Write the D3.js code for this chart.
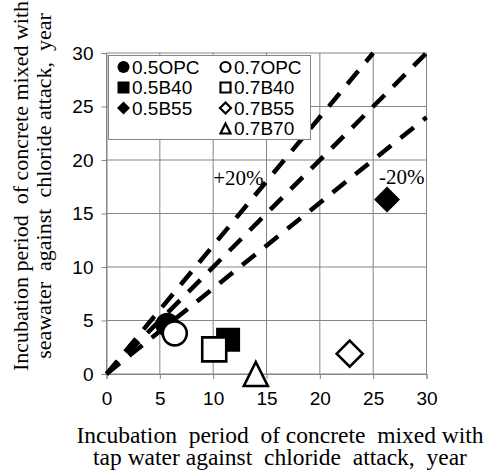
<!DOCTYPE html>
<html>
<head>
<meta charset="utf-8">
<script src="https://cdn.jsdelivr.net/npm/d3@7"></script>
<style>
  html, body { margin: 0; padding: 0; background: #fff; }
  svg { display: block; }
  text { white-space: pre; }
</style>
</head>
<body>
<svg id="chart" width="495" height="473"></svg>
<script>
// ---- data ----
const seriesNames = ["0.5OPC", "0.7OPC", "0.5B40", "0.7B40", "0.5B55", "0.7B55", "0.7B70"];
const tapWaterYears = [5.7, 6.4, 11.4, 10.1, 26.3, 22.8, 14.0];
const seawaterYears = [4.6, 3.8, 3.2, 2.3, 16.3, 1.9, 0.0];
const markerShapes = ["circle", "circle", "square", "square", "diamond", "diamond", "triangle"];
const markerFilled = [true, false, true, false, true, false, false];
const ticks = [0, 5, 10, 15, 20, 25, 30];
const refSlopes = [1.2, 1.0, 0.8];
const refLabels = [{ text: "+20%", x: 10.0, y: 17.7 }, { text: "-20%", x: 25.55, y: 17.75 }];
const legendCol1 = ["0.5OPC", "0.5B40", "0.5B55"];
const legendCol2 = ["0.7OPC", "0.7B40", "0.7B55", "0.7B70"];
const xTitle = ["Incubation  period  of concrete  mixed with", "tap water against  chloride  attack,  year"];
const yTitle = ["Incubation period  of concrete mixed with", "seawater  against  chloride attack,  year"];

// ---- layout ----
const svg = d3.select("#chart");
const x = d3.scaleLinear().domain([0, 30]).range([106.5, 426.5]);
const y = d3.scaleLinear().domain([0, 30]).range([374, 53]);
const gridColor = "#858585";
const sansFont = "'Liberation Sans', Arial, sans-serif";
const serifFont = "'Liberation Serif', 'Times New Roman', serif";

// shape paths centred at 0,0 with given size (bbox)
function shapePath(shape, s) {
  const h = s / 2;
  if (shape === "circle") {
    const p = d3.path(); p.arc(0, 0, h, 0, 2 * Math.PI); p.closePath(); return p.toString();
  }
  if (shape === "square") return `M${-h},${-h}H${h}V${h}H${-h}Z`;
  if (shape === "diamond") return `M0,${-h}L${h},0L0,${h}L${-h},0Z`;
  if (shape === "triangle") return `M0,${-h}L${h},${h}L${-h},${h}Z`;
}
const markerSize = { circle: 24, square: 24, diamond: 26, triangle: 24 };
const legendSize = { circle: 12, square: 12, diamond: 13, triangle: 12 };

// gridlines
const grid = svg.append("g");
grid.selectAll("line.v").data(ticks).join("line")
  .attr("class", "v")
  .attr("x1", d => x(d)).attr("x2", d => x(d))
  .attr("y1", y(0)).attr("y2", y(30))
  .attr("stroke", gridColor).attr("stroke-width", 1);
grid.selectAll("line.h").data(ticks).join("line")
  .attr("class", "h")
  .attr("x1", x(0)).attr("x2", x(30))
  .attr("y1", d => y(d)).attr("y2", d => y(d))
  .attr("stroke", gridColor).attr("stroke-width", 1);

// axes
const xAxis = svg.append("g").attr("transform", `translate(0,${y(0)})`)
  .call(d3.axisBottom(x).tickValues(ticks).tickSize(5).tickPadding(13));
const yAxis = svg.append("g").attr("transform", `translate(${x(0)},0)`)
  .call(d3.axisLeft(y).tickValues(ticks).tickSize(5).tickPadding(8));
[xAxis, yAxis].forEach(g => {
  g.selectAll("path.domain").attr("stroke", gridColor);
  g.selectAll(".tick line").attr("stroke", gridColor);
  g.selectAll(".tick text").attr("fill", "#000").style("font-family", sansFont).style("font-size", "19px");
});

// reference dashed lines
const lineGen = d3.line().x(d => x(d[0])).y(d => y(d[1]));
svg.append("g").selectAll("path").data(refSlopes).join("path")
  .attr("d", k => lineGen([[0, 0], [Math.min(30, 30 / k), Math.min(30, 30 / k) * k]]))
  .attr("fill", "none").attr("stroke", "#000").attr("stroke-width", 4.5)
  .attr("stroke-dasharray", "17,12");

svg.append("g").selectAll("text").data(refLabels).join("text")
  .attr("x", d => x(d.x)).attr("y", d => y(d.y))
  .text(d => d.text)
  .style("font-family", serifFont).style("font-size", "21px").attr("fill", "#000");

// data markers
const pts = seriesNames.map((n, i) => ({ name: n, tx: tapWaterYears[i], sy: seawaterYears[i], shape: markerShapes[i], filled: markerFilled[i] }));
svg.append("g").selectAll("path").data(pts).join("path")
  .attr("transform", d => `translate(${x(d.tx)},${y(d.sy)})`)
  .attr("d", d => shapePath(d.shape, markerSize[d.shape]))
  .attr("fill", d => d.filled ? "#000" : "#fff")
  .attr("stroke", "#000").attr("stroke-width", d => d.filled ? 0 : 2.6);

// legend
const legend = svg.append("g");
legend.append("rect").attr("x", 108.5).attr("y", 55.5).attr("width", 202).attr("height", 84)
  .attr("fill", "#fff").attr("stroke", gridColor).attr("stroke-width", 1);
function legendColumn(names, mx, tx) {
  const items = names.map((n, r) => ({ name: n, r, idx: seriesNames.indexOf(n) }));
  const g = legend.append("g");
  g.selectAll("path").data(items).join("path")
    .attr("transform", d => `translate(${mx},${67 + d.r * 20.5})`)
    .attr("d", d => shapePath(markerShapes[d.idx], legendSize[markerShapes[d.idx]] - (markerFilled[d.idx] ? 0 : 2)))
    .attr("fill", d => markerFilled[d.idx] ? "#000" : "#fff")
    .attr("stroke", "#000").attr("stroke-width", d => markerFilled[d.idx] ? 0 : 2.2);
  g.selectAll("text").data(items).join("text")
    .attr("x", tx).attr("y", d => 73.5 + d.r * 20.5)
    .text(d => d.name)
    .style("font-family", sansFont).style("font-size", "19px").attr("fill", "#000");
}
legendColumn(legendCol1, 123.5, 132);
legendColumn(legendCol2, 225.5, 234);

// axis titles
svg.append("g").selectAll("text").data(xTitle).join("text")
  .attr("x", 280).attr("y", (d, i) => 443 + i * 22)
  .attr("text-anchor", "middle")
  .text(d => d)
  .style("font-family", serifFont).style("font-size", "23.5px").attr("fill", "#000");

svg.append("g").selectAll("text").data(yTitle).join("text")
  .attr("transform", (d, i) => `translate(${28 + i * 23},${186}) rotate(-90)`)
  .attr("text-anchor", "middle")
  .text(d => d)
  .style("font-family", serifFont).style("font-size", "22px").attr("fill", "#000");
</script>
</body>
</html>
